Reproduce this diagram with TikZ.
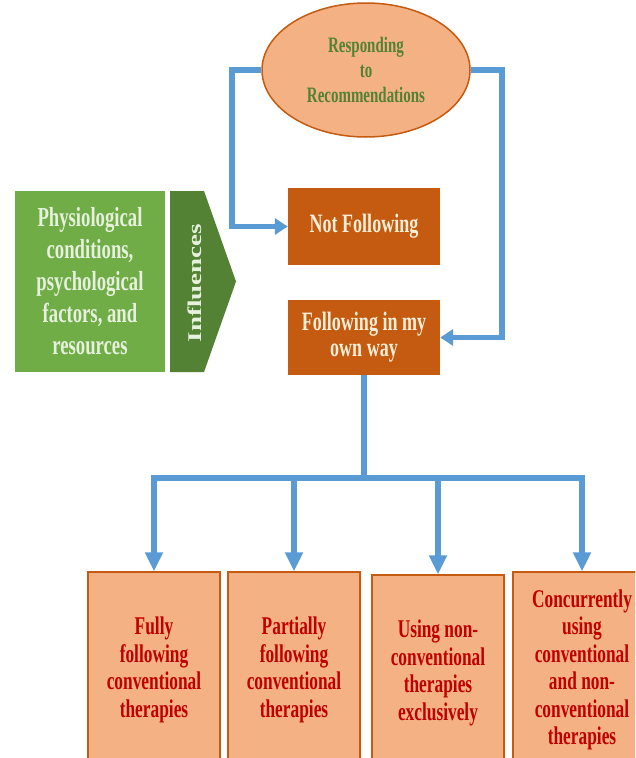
\documentclass[tikz,border=0pt]{standalone}
\usepackage{fontspec}
\setmainfont{Liberation Serif}
\newfontfamily\cnd[FakeStretch=0.68]{Liberation Serif}
\usetikzlibrary{arrows.meta,calc,shapes.geometric}
\definecolor{orL}{HTML}{F4B183}
\definecolor{orD}{HTML}{C55A11}
\definecolor{grT}{HTML}{548235}
\definecolor{grL}{HTML}{70AD47}
\definecolor{grD}{HTML}{548235}
\definecolor{cream}{HTML}{F6EED6}
\definecolor{grText}{HTML}{E6F0DC}
\definecolor{blu}{HTML}{5B9BD5}
\definecolor{redT}{HTML}{C00000}
\tikzset{
  blueline/.style={draw=blu, line width=5.5pt},
  bluearrow/.style={blueline, -{Triangle[width=17pt,length=19pt]}},
  sidearrow/.style={blueline, -{Triangle[width=16pt,length=13pt]}},
  darkbox/.style={fill=orD, draw=none, minimum width=152pt, text=cream, align=center, font=\cnd\bfseries\fontsize{26.5}{26}\selectfont, inner sep=0pt},
  leafbox/.style={fill=orL, draw=orD, line width=1.2pt, minimum width=132pt, minimum height=196pt, text=redT, align=center, font=\cnd\bfseries\fontsize{25.5}{27.5}\selectfont, inner sep=0pt},
}
\begin{document}
\begin{tikzpicture}[x=1pt,y=-1pt]
\useasboundingbox (0,0) rectangle (635,758);
\clip (0,0) rectangle (635,758);
\fill[white] (0,0) rectangle (635,758);
% ellipse
\node[ellipse, fill=orL, draw=orD, line width=1.5pt, minimum width=208pt, minimum height=134pt, inner sep=0pt, text=grT, align=center, font=\cnd\bfseries\fontsize{22}{25}\selectfont] (ell) at (366,70) {Responding\\to\\Recommendations};
% boxes
\node[darkbox, minimum height=77pt] (nf) at (364,226.5) {Not Following};
\node[darkbox, minimum height=75pt] (fo) at (364,337.5) {Following in my\\own way};
% green box
\node[fill=grL, minimum width=150pt, minimum height=181pt, inner sep=0pt, text=grText, align=center, font=\cnd\bfseries\fontsize{27.5}{32}\selectfont] (phys) at (90,281.5) {Physiological\\conditions,\\psychological\\factors, and\\resources};
% chevron
\fill[grD] (170,191) -- (204,191) -- (236,281.5) -- (204,372) -- (170,372) -- cycle;
\node[rotate=90, text=grText, font=\bfseries\fontsize{27}{27}\selectfont, inner sep=0pt] (infl) at (195,283) {\scalebox{1}[0.72]{Influences}};
% connectors top
\coordinate (l1) at (232,70);
\coordinate (l2) at (232,226.5);
\coordinate (r1) at (502,70);
\coordinate (r2) at (502,337.5);
\draw[sidearrow] (ell.west) -- (l1) -- (l2) -- (nf.west);
\draw[sidearrow] (ell.east) -- (r1) -- (r2) -- (fo.east);
% leaves
\node[leafbox] (b1) at (154,670) {Fully\\following\\conventional\\therapies};
\node[leafbox] (b2) at (294,670) {Partially\\following\\conventional\\therapies};
\node[leafbox] (b3) at (438,673) {Using non-\\conventional\\therapies\\exclusively};
\node[leafbox, minimum width=138pt] (b4) at (582,670) {Concurrently\\using\\conventional\\and non-\\conventional\\therapies};
% bus
\coordinate (bus) at (364,478);
\coordinate (busL) at (154,478);
\coordinate (busR) at (582,478);
\draw[blueline] (fo.south) -- (bus);
\draw[blueline, line cap=rect] (busL) -- (busR);
\draw[bluearrow] (busL) -- (b1.north);
\draw[bluearrow] (b2.north |- bus) -- (b2.north);
\draw[bluearrow] (b3.north |- bus) -- (b3.north);
\draw[bluearrow] (busR) -- (b4.north);
\end{tikzpicture}
\end{document}
